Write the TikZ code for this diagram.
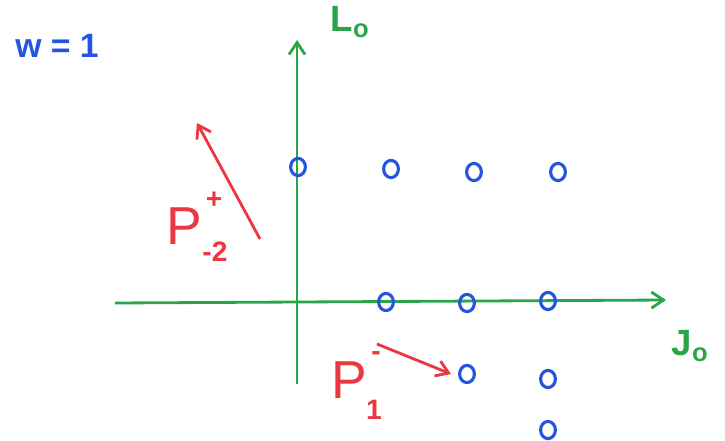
\documentclass[tikz,border=0pt]{standalone}
\usepackage{fontspec}
\setmainfont{Liberation Sans}
\usepackage{tikz}
\usetikzlibrary{arrows.meta, positioning, shapes.geometric}

\definecolor{penblue}{RGB}{35,85,225}
\definecolor{pengreen}{RGB}{40,165,70}
\definecolor{penred}{RGB}{235,55,65}

\begin{document}
\begin{tikzpicture}[
        x=0.025cm, y=-0.025cm,
        axis/.style={draw=pengreen, line width=2pt, -{Straight Barb[length=3mm, width=4mm]}},
        move/.style={draw=penred, line width=2pt, -{Straight Barb[length=3mm, width=4mm]}},
        state/.style={
            ellipse,
            draw=penblue,
            line width=2.2pt,
            inner sep=0pt,
            minimum width=0.37cm,
            minimum height=0.43cm
        },
        axlabel/.style={text=pengreen, font=\bfseries\fontsize{26}{28}\selectfont},
        plabel/.style={text=penred, font=\fontsize{38}{40}\selectfont},
        pindex/.style={text=penred, font=\bfseries\fontsize{20}{22}\selectfont}
    ]
        \useasboundingbox (0,0) rectangle (725,441);
        % axes
        \coordinate (jstart) at (115,303);
        \coordinate (jend) at (666,300);
        \coordinate (lstart) at (297,384);
        \coordinate (lend) at (297,40);
        \draw[axis] (jstart) -- (jend);
        \draw[axis] (lstart) -- (lend);
        \node[axlabel] (lo) at (350,22) {L$_\mathbf{o}$};
        \node[axlabel] (jo) at (690,346) {J$_\mathbf{o}$};
        \node[text=penblue, font=\bfseries\fontsize{24}{26}\selectfont] (w) at (57,46) {w = 1};
        % states
        \node[state] (s1) at (298,167) {};
        \node[state] (s2) at (391,169) {};
        \node[state] (s3) at (474,172) {};
        \node[state] (s4) at (558,172) {};
        \node[state] (s5) at (386,302) {};
        \node[state] (s6) at (467,303) {};
        \node[state] (s7) at (548,301) {};
        \node[state] (s8) at (467,374) {};
        \node[state] (s9) at (548,379) {};
        \node[state] (s10) at (548,430) {};
        % ladder operators
        \coordinate (pa) at (260,239);
        \coordinate (pb) at (197,123);
        \coordinate (ma) at (377,344);
        \coordinate (mb) at (451,374);
        \draw[move] (pa) -- (pb);
        \draw[move] (ma) -- (mb);
        \node[plabel] (pplus) at (184,226) {P};
        \node[pindex] (pplussup) at (214,200) {+};
        \node[pindex] (pplussub) at (215,252) {-2};
        \node[plabel] (pminus) at (349,380) {P};
        \node[pindex] (pminussup) at (376,356) {-};
        \node[pindex] (pminussub) at (374,410) {1};
    \end{tikzpicture}
\end{document}
